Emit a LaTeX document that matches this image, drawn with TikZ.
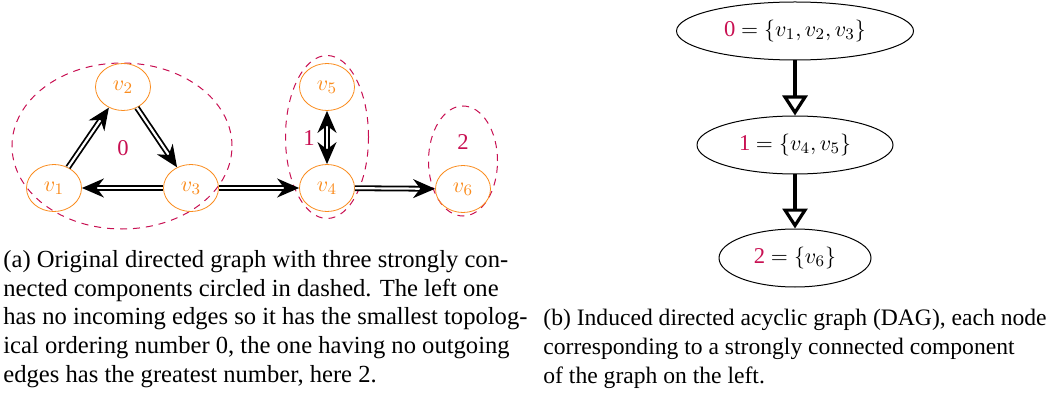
\documentclass[tikz,border=0pt]{standalone}
\usepackage{amsmath}
\usepackage{amssymb}
\usepackage{fontspec}
\setmainfont{Liberation Serif}
\usepackage{tikz}
\usetikzlibrary{arrows.meta,shapes.geometric}

\definecolor{sccred}{RGB}{200,16,82}
\definecolor{vxorange}{RGB}{250,140,30}

\tikzset{
  vx/.style={ellipse,draw=vxorange,text=vxorange,inner sep=0pt,
    minimum width=27.5pt,minimum height=23.5pt},
  scc/.style={ellipse,draw=sccred,line width=0.5pt,
    dash pattern=on 3.5pt off 3pt,inner sep=0pt},
  scclabel/.style={text=sccred,inner sep=0pt},
  dbl/.style={double,line width=0.9pt,double distance=1.1pt,
    -{Stealth[length=11pt,width=9.5pt]}},
  dag/.style={ellipse,draw,line width=0.5pt,inner sep=0pt,minimum height=29pt},
  dagarrow/.style={line width=1.6pt,-{Triangle[open,length=10pt,width=12.5pt]}},
  captext/.style={anchor=north west,inner sep=0pt,align=left,
    font=\fontsize{12.3pt}{14.35pt}\selectfont}
}

\begin{document}
\begin{tikzpicture}[x=0.5pt,y=-0.5pt,font=\fontsize{11.3pt}{14.35pt}\selectfont]
    \useasboundingbox (0,0) rectangle (1063,395);
    % components, circled
    \node[scc,minimum width=110pt,minimum height=83pt] (c0) at (122,146) {};
    \node[scc,minimum width=41.5pt,minimum height=81.5pt] (c1) at (327,137) {};
    \node[scc,minimum width=34.5pt,minimum height=55pt] (c2) at (463,161) {};
    \node[scclabel] (l0) at (123,148) {0};
    \node[scclabel] (l1) at (309,138) {1};
    \node[scclabel] (l2) at (463,142) {2};
    % vertices
    \node[vx] (v1) at (54,188) {$v_1$};
    \node[vx] (v2) at (123,87) {$v_2$};
    \node[vx] (v3) at (191,188) {$v_3$};
    \node[vx] (v4) at (327,188) {$v_4$};
    \node[vx] (v5) at (327,87) {$v_5$};
    \node[vx] (v6) at (463,189) {$v_6$};
    % edges
    \draw[dbl] (v1) -- (v2);
    \draw[dbl] (v2) -- (v3);
    \draw[dbl] (v3) -- (v1);
    \draw[dbl] (v3) -- (v4);
    \draw[dbl] (v4) -- (v6);
    \draw[dbl,{Stealth[length=11pt,width=9.5pt]}-{Stealth[length=11pt,width=9.5pt]}] (v4) -- (v5);
    % induced dag
    \node[dag,minimum width=118.5pt] (d0) at (795,31) {\textcolor{sccred}{0} $=\{v_1,v_2,v_3\}$};
    \node[dag,minimum width=98pt] (d1) at (795,145) {\textcolor{sccred}{1} $=\{v_4,v_5\}$};
    \node[dag,minimum width=76pt] (d2) at (795,258) {\textcolor{sccred}{2} $=\{v_6\}$};
    \draw[dagarrow] (d0) -- (d1);
    \draw[dagarrow] (d1) -- (d2);
    % captions
    \node[captext] (capa) at (3,250) {(a) Original directed graph with three strongly con-\\
      nected components circled in dashed. The left one\\
      has no incoming edges so it has the smallest topolog-\\
      ical ordering number 0, the one having no outgoing\\
      edges has the greatest number, here 2.};
    \node[captext,font=\fontsize{11.8pt}{14.35pt}\selectfont] (capb) at (543,309) {(b) Induced directed acyclic graph (DAG), each node\\
      corresponding to a strongly connected component\\
      of the graph on the left.};
\end{tikzpicture}
\end{document}
